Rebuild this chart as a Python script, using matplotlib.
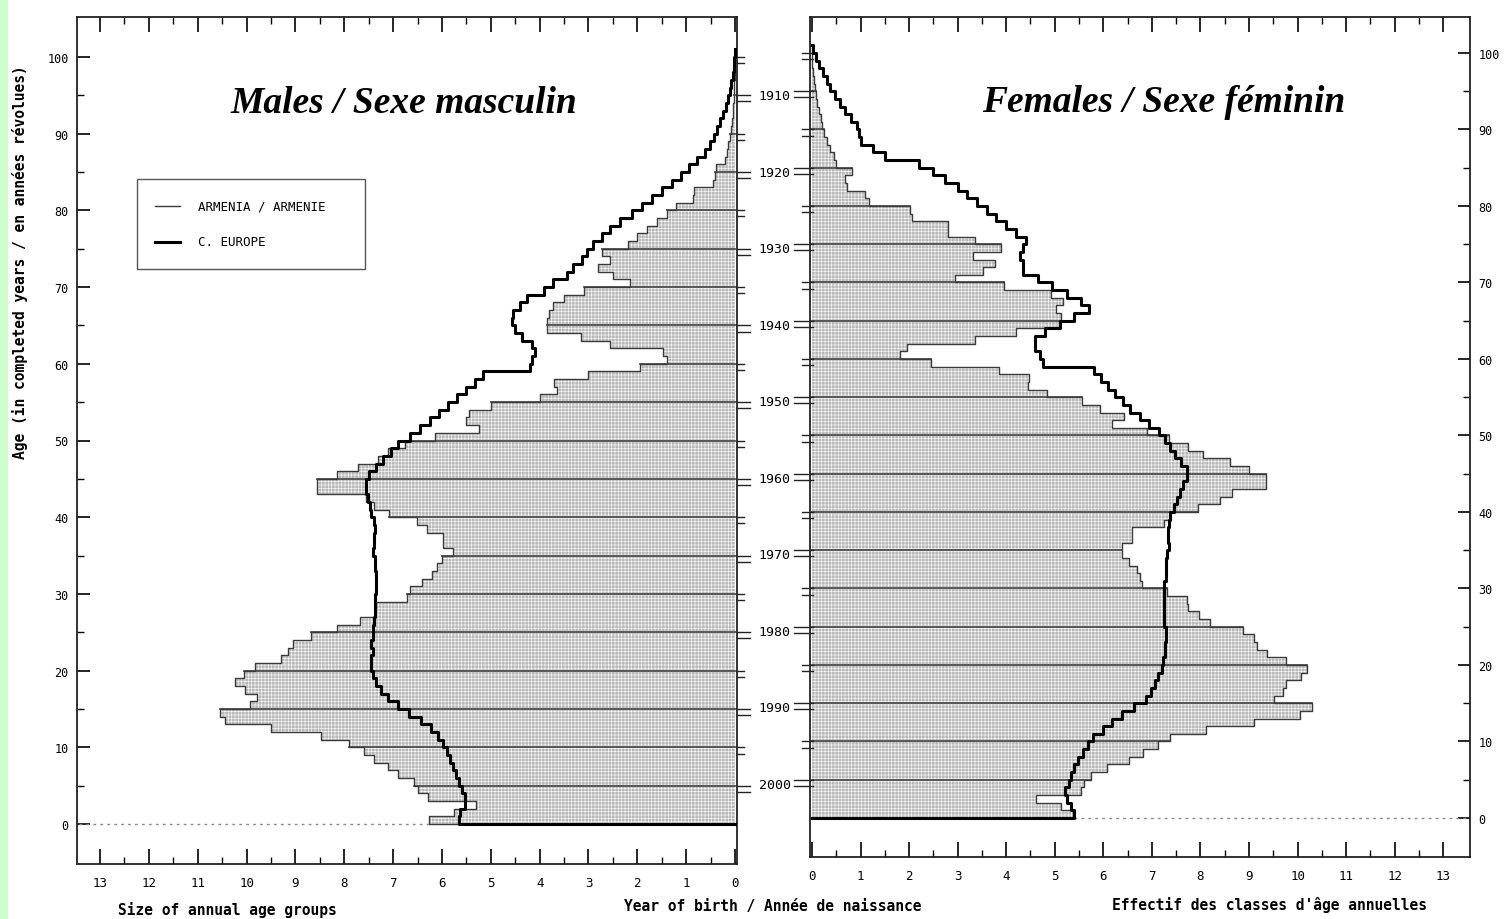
import numpy as np
import matplotlib
matplotlib.use('Agg')
import matplotlib.pyplot as plt
from matplotlib.patches import Rectangle

# Population on 1 January, annual age groups 0..100 (per thousand of total)
ages = np.arange(0, 101)

armenia_m = [6.26, 5.75, 5.3, 6.29, 6.5, 6.57, 6.9, 7.1, 7.4, 7.6,
             7.9, 8.48, 9.5, 10.45, 10.55, 9.92, 9.78, 10.03, 10.24, 10.06,
             9.82, 9.29, 9.15, 9.04, 8.69, 8.15, 7.68, 7.37, 7.35, 6.72,
             6.65, 6.41, 6.21, 6.11, 6.0, 5.77, 5.97, 5.97, 6.31, 6.52,
             7.08, 7.4, 7.55, 8.56, 8.56, 8.15, 7.71, 7.3, 7.1, 6.75,
             6.15, 5.25, 5.5, 5.45, 5.0, 4.0, 3.65, 3.7, 3.0, 1.95,
             1.4, 1.47, 2.55, 3.15, 3.85, 3.85, 3.8, 3.72, 3.5, 3.1,
             2.15, 2.5, 2.8, 2.55, 2.73, 2.2, 2.0, 1.8, 1.6, 1.4,
             1.2, 0.86, 0.84, 0.45, 0.42, 0.38, 0.2, 0.17, 0.14, 0.1,
             0.09, 0.07, 0.05, 0.04, 0.03, 0.02, 0.015, 0.01, 0.005, 0.003,
             0.002]

europe_m = [5.66, 5.62, 5.52, 5.52, 5.59, 5.66, 5.72, 5.77, 5.84, 5.9,
            5.98, 6.08, 6.22, 6.43, 6.68, 6.89, 7.1, 7.24, 7.35, 7.42,
            7.46, 7.46, 7.42, 7.46, 7.42, 7.42, 7.4, 7.38, 7.38, 7.36,
            7.35, 7.35, 7.35, 7.36, 7.38, 7.42, 7.4, 7.4, 7.38, 7.4,
            7.45, 7.48, 7.52, 7.55, 7.55, 7.5, 7.35, 7.2, 7.05, 6.9,
            6.65, 6.45, 6.25, 6.05, 5.87, 5.7, 5.5, 5.32, 5.15, 4.2,
            4.16, 4.09, 4.16, 4.37, 4.5, 4.57, 4.54, 4.4, 4.26, 3.92,
            3.72, 3.45, 3.31, 3.14, 3.04, 2.9, 2.73, 2.56, 2.35, 2.1,
            1.9, 1.7, 1.5, 1.3, 1.1, 0.95, 0.78, 0.62, 0.52, 0.44,
            0.37, 0.31, 0.25, 0.19, 0.15, 0.11, 0.08, 0.05, 0.03, 0.02,
            0.01]

armenia_f = [5.37, 5.13, 4.62, 5.55, 5.61, 5.75, 6.07, 6.53, 6.81, 7.13,
             7.37, 8.11, 9.1, 10.05, 10.3, 9.52, 9.7, 9.77, 10.08, 10.19,
             9.77, 9.38, 9.17, 9.1, 8.88, 8.2, 7.98, 7.75, 7.72, 7.31,
             6.8, 6.76, 6.69, 6.52, 6.39, 6.39, 6.59, 6.59, 7.24, 7.38,
             7.95, 8.4, 8.65, 9.35, 9.35, 9.0, 8.6, 8.05, 7.75, 7.35,
             6.9, 6.18, 6.42, 5.94, 5.57, 4.85, 4.44, 4.47, 3.86, 2.46,
             1.81, 1.95, 3.35, 4.2, 5.09, 5.12, 5.02, 5.16, 4.92, 3.96,
             2.94, 3.52, 3.76, 3.32, 3.9, 3.35, 2.8, 2.8, 2.05, 2.02,
             1.17, 1.1, 0.72, 0.69, 0.83, 0.5, 0.45, 0.38, 0.31, 0.25,
             0.21, 0.18, 0.14, 0.11, 0.09, 0.06, 0.04, 0.02, 0.01, 0.005,
             0.002]

europe_f = [5.4, 5.33, 5.26, 5.22, 5.29, 5.33, 5.4, 5.47, 5.58, 5.68,
            5.79, 6.0, 6.18, 6.39, 6.63, 6.88, 6.99, 7.06, 7.13, 7.2,
            7.23, 7.27, 7.27, 7.3, 7.3, 7.25, 7.25, 7.25, 7.25, 7.25,
            7.25, 7.3, 7.3, 7.3, 7.32, 7.35, 7.33, 7.33, 7.36, 7.38,
            7.45, 7.52, 7.58, 7.65, 7.72, 7.72, 7.6, 7.48, 7.38, 7.28,
            7.15, 6.95, 6.75, 6.55, 6.4, 6.25, 6.1, 5.95, 5.8, 4.75,
            4.7, 4.6, 4.6, 4.8, 5.1, 5.4, 5.7, 5.55, 5.25, 4.95,
            4.65, 4.35, 4.35, 4.28, 4.35, 4.4, 4.2, 4.0, 3.8, 3.6,
            3.4, 3.2, 3.0, 2.75, 2.5, 2.2, 1.5, 1.25, 1.0, 0.96,
            0.92, 0.8, 0.68, 0.58, 0.48, 0.38, 0.3, 0.22, 0.14, 0.08,
            0.03]

birth_years = [1910, 1920, 1930, 1940, 1950, 1960, 1970, 1980, 1990, 2000]
ref_year = 2005

size_ticks = list(range(0, 14))
age_ticks = list(range(0, 101, 10))

FILL = '#b9b9b9'
OUTLINE = '#3a3a3a'
MONO = 'DejaVu Sans Mono'
SERIF = 'Liberation Serif'

plt.rcParams['font.family'] = [MONO]
plt.rcParams['hatch.linewidth'] = 0.4

W, H = 1511, 920
fig = plt.figure(figsize=(W / 100, H / 100), dpi=100)
fig.patches.append(Rectangle((0, 0), 8 / W, 1, transform=fig.transFigure,
                             facecolor='#ccffcc', edgecolor='none', zorder=0))

ax_m = fig.add_axes([77 / W, 55 / H, 660 / W, 847 / H])
ax_f = fig.add_axes([810 / W, 62 / H, 660 / W, 840 / H])


def step_outline(vals):
    v = np.asarray(vals, dtype=float)
    idx = np.arange(len(v))
    xs = np.concatenate([[0], np.repeat(v, 2), [0]])
    ys = np.concatenate([[0], np.column_stack([idx, idx + 1]).ravel(), [len(v)]])
    return xs, ys


def draw_panel(ax, armenia, europe, outer):
    xa, ya = step_outline(armenia)
    xe, ye = step_outline(europe)
    ax.fill(xa, ya, facecolor=FILL, edgecolor='none', zorder=1)
    ax.fill(xa, ya, facecolor='none', edgecolor='white', hatch='+++++',
            linewidth=0, zorder=1.5)
    # darker rules every five years across the bars
    for a in range(5, 100, 5):
        w = max(armenia[a - 1], armenia[a])
        ax.plot([0, w], [a, a], color='#4d4d4d', lw=1.3, zorder=2)
    ax.plot(xa, ya, color=OUTLINE, lw=1.0, zorder=3)
    ax.plot(xe, ye, color='black', lw=2.2, zorder=4)
    start = max(armenia[0], europe[0])
    ax.plot([start, outer], [0, 0], color='#8a8a8a', lw=1.0,
            linestyle=(0, (2, 3)), zorder=2)


draw_panel(ax_m, armenia_m, europe_m, 13.47)
draw_panel(ax_f, armenia_f, europe_f, 13.55)

ax_m.set_xlim(13.47, -0.04)
ax_m.set_ylim(-5.2, 105.2)
ax_f.set_xlim(-0.04, 13.55)
ax_f.set_ylim(-5.1, 104.7)

for ax in (ax_m, ax_f):
    ax.set_xticks(size_ticks)
    ax.set_xticks(np.arange(0.5, 13, 1), minor=True)
    ax.set_yticks(age_ticks)
    ax.set_yticks(np.arange(5, 100, 10), minor=True)
    ax.tick_params(axis='x', which='major', direction='in', length=11,
                   width=1.2, top=True, bottom=True, labelsize=9, pad=9)
    ax.tick_params(axis='x', which='minor', direction='in', length=5,
                   width=1.0, top=True, bottom=True)
    ax.tick_params(axis='y', which='major', direction='in', length=9,
                   width=1.2, labelsize=8.5, pad=6)
    ax.tick_params(axis='y', which='minor', direction='in', length=5,
                   width=1.0)
    for sp in ax.spines.values():
        sp.set_linewidth(1.3)
        sp.set_color('#222222')

ax_m.tick_params(axis='y', which='both', left=True, right=False)
ax_f.yaxis.tick_right()
ax_f.tick_params(axis='y', which='both', left=False, right=True)

# cohort marks on the two inner spines
for a in range(5, 101, 5):
    labelled = (a % 10 == 5)
    lm = (13 if labelled else 7) / 660
    lf = (16 if labelled else 8) / 660
    for yy in (a, a - 0.8):
        ax_m.plot([1.0, 1.0 + lm], [yy, yy], transform=ax_m.get_yaxis_transform(),
                  color='#222222', lw=1.0, clip_on=False)
        ax_f.plot([-lf, 0.004], [yy, yy], transform=ax_f.get_yaxis_transform(),
                  color='#222222', lw=1.0, clip_on=False)

for yr in birth_years:
    ax_f.text(-0.029, ref_year - yr - 0.6, str(yr), transform=ax_f.get_yaxis_transform(),
              ha='right', va='center', fontsize=9.5, clip_on=False)

# titles
ax_m.text(0.495, 0.8985, 'Males / Sexe masculin', transform=ax_m.transAxes,
          ha='center', va='center', fontsize=27, family=SERIF,
          fontweight='bold', fontstyle='italic')
ax_f.text(0.536, 0.90, 'Females / Sexe féminin', transform=ax_f.transAxes,
          ha='center', va='center', fontsize=27, family=SERIF,
          fontweight='bold', fontstyle='italic')

# legend box
ax_m.add_patch(Rectangle((0.0909, 0.7025), 0.3455, 0.1062, transform=ax_m.transAxes,
                         facecolor='white', edgecolor='#555555', lw=1.0, zorder=5))
ax_m.plot([0.118, 0.156], [0.7769, 0.7769], transform=ax_m.transAxes,
          color=OUTLINE, lw=1.0, zorder=6)
ax_m.plot([0.118, 0.156], [0.7344, 0.7344], transform=ax_m.transAxes,
          color='black', lw=2.2, zorder=6)
ax_m.text(0.1833, 0.7769, 'ARMENIA / ARMENIE', transform=ax_m.transAxes,
          ha='left', va='center', fontsize=9, zorder=6)
ax_m.text(0.1833, 0.7344, 'C. EUROPE', transform=ax_m.transAxes,
          ha='left', va='center', fontsize=9, zorder=6)

# axis captions
fig.text(118 / W, 1 - 910 / H, 'Size of annual age groups', ha='left',
         va='center', fontsize=10.5, fontweight='bold')
fig.text(773 / W, 1 - 907 / H, 'Year of birth / Année de naissance',
         ha='center', va='center', fontsize=10.5, fontweight='bold')
fig.text(1269 / W, 1 - 905 / H, "Effectif des classes d'âge annuelles",
         ha='center', va='center', fontsize=10.5, fontweight='bold')
fig.text(20 / W, 1 - 262 / H, 'Age (in completed years / en années révolues)',
         ha='center', va='center', rotation=90, fontsize=10.5, fontweight='bold')

fig.savefig('out.png', dpi=100)
